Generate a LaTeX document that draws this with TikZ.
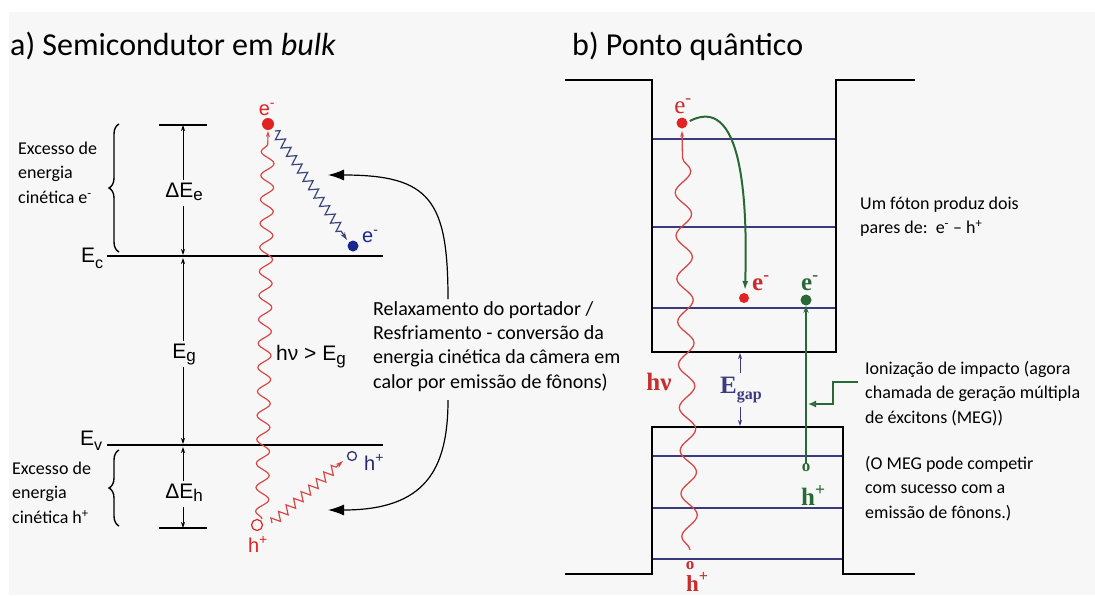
\documentclass[tikz,border=0pt]{standalone}
\usepackage{fontspec}
\setmainfont{Carlito}
\newfontfamily\arialf{Liberation Sans}
\newfontfamily\timesf{Liberation Serif}
\usetikzlibrary{arrows.meta,decorations.pathmorphing,decorations.pathreplacing}
\definecolor{bgg}{HTML}{F7F7F7}
\definecolor{redD}{RGB}{225,35,35}
\definecolor{redW}{RGB}{214,72,72}
\definecolor{redT}{RGB}{200,45,45}
\definecolor{blueD}{RGB}{25,40,140}
\definecolor{blueW}{RGB}{60,70,125}
\definecolor{blueT}{RGB}{40,40,110}
\definecolor{navy}{RGB}{58,58,125}
\definecolor{greenD}{RGB}{40,105,55}
\begin{document}
\begin{tikzpicture}[x=1pt,y=-1pt,
  txt/.style={anchor=north west,inner sep=0pt,align=left,font=\fontsize{18}{24.5}\selectfont},
  ttl/.style={anchor=base west,inner sep=0pt,font=\fontsize{32}{38}\selectfont},
  lvl/.style={line width=2.4pt,black},
  qlvl/.style={line width=2pt,navy},
  ar/.style={anchor=base,inner sep=0pt,font=\arialf\fontsize{21}{24}\selectfont},
  tm/.style={anchor=base west,inner sep=0pt,font=\timesf\bfseries\fontsize{25}{28}\selectfont},
  dim/.style={line width=0.9pt,{Stealth[length=6pt,width=4pt]}-{Stealth[length=6pt,width=4pt]}},
  bigarr/.style={line width=1.2pt,-{Latex[length=16pt,width=11pt]}},
  lab/.style={fill=bgg,inner sep=1pt}
]
\clip (0,0) rectangle (1095,595);
\fill[white] (0,0) rectangle (1095,595);
\fill[bgg] (9,12) rectangle (1095,595);

% ---------- titles
\node[ttl] (ta) at (10,55) {a) Semicondutor em \textit{bulk}};
\node[ttl] (tb) at (572,55) {b) Ponto quântico};

% ---------- left panel levels
\coordinate (ecL) at (107,256); \coordinate (ecR) at (383,256);
\coordinate (evL) at (107,445); \coordinate (evR) at (383,445);
\coordinate (tL) at (159,125);  \coordinate (tR) at (207,125);
\coordinate (bL) at (159,528);  \coordinate (bR) at (207,528);
\draw[lvl] (ecL) -- (ecR);
\draw[lvl] (evL) -- (evR);
\draw[line width=2pt] (tL) -- (tR);
\draw[line width=2pt] (bL) -- (bR);

\node[ar,anchor=base west] (Ec) at (81,262) {E\raisebox{-6pt}{\fontsize{16}{16}\selectfont c}};
\node[ar,anchor=base west] (Ev) at (80,445) {E\raisebox{-5pt}{\fontsize{16}{16}\selectfont v}};

% dimension arrows
\coordinate (d1) at (183,125); \coordinate (d2) at (183,255);
\coordinate (d3) at (183,258); \coordinate (d4) at (183,444);
\coordinate (d5) at (183,447); \coordinate (d6) at (183,528);
\draw[dim] (d1) -- (d2);
\draw[dim] (d3) -- (d4);
\draw[dim] (d5) -- (d6);
\node[ar,lab,anchor=center] (dEe) at (184,193) {\strut ΔE\raisebox{-3pt}{\fontsize{17}{17}\selectfont e}};
\node[ar,lab,anchor=center] (Eg) at (184,354) {\strut E\raisebox{-3pt}{\fontsize{17}{17}\selectfont g}};
\node[ar,lab,anchor=center] (dEh) at (184,494) {\strut ΔE\raisebox{-3pt}{\fontsize{17}{17}\selectfont h}};

% braces
\coordinate (br1a) at (119,252); \coordinate (br1b) at (119,124);
\coordinate (br2a) at (119,526); \coordinate (br2b) at (119,450);
\draw[line width=1.4pt,decorate,decoration={brace,amplitude=10pt}] (br1a) -- (br1b);
\draw[line width=1.4pt,decorate,decoration={brace,amplitude=10pt}] (br2a) -- (br2b);

\node[txt] (exe) at (18,137) {\strut Excesso de\\energia\\cinética e\textsuperscript{-}};
\node[txt] (exh) at (12,457) {\strut Excesso de\\energia\\cinética h\textsuperscript{+}};

% electron / hole
\node[circle,fill=redD,inner sep=0pt,minimum size=12pt] (eTop) at (268,124) {};
\node[ar,text=redD,font=\arialf\fontsize{20}{22}\selectfont] (eTopL) at (267,115) {e\textsuperscript{-}};
\node[circle,fill=blueD,inner sep=0pt,minimum size=11pt] (eBot) at (353,246) {};
\node[ar,anchor=base west,text=blueD,font=\arialf\fontsize{20}{22}\selectfont] (eBotL) at (362,242) {e\textsuperscript{-}};
\node[circle,draw=redD,line width=1.2pt,inner sep=0pt,minimum size=11pt] (hBot) at (257,525) {};
\node[ar,text=redD,font=\arialf\fontsize{20}{22}\selectfont] (hBotL) at (258,552) {h\textsuperscript{+}};
\node[circle,draw=blueT,line width=1.2pt,inner sep=0pt,minimum size=9pt] (hTop) at (352,456) {};
\node[ar,anchor=base west,text=blueT,font=\arialf\fontsize{20}{22}\selectfont] (hTopL) at (364,470) {h\textsuperscript{+}};

% photon left
\coordinate (ph1) at (262,519);
\coordinate (ph2) at (268,131);
\draw[redW,line width=1.2pt,-{Stealth[length=6pt,width=4pt]},decorate,
  decoration={snake,segment length=24pt,amplitude=6.5pt,pre length=0pt,post length=6pt}] (ph1) -- (ph2);
\node[ar,anchor=base west] (hnu) at (276,360) {hν > E\raisebox{-4pt}{\fontsize{17}{17}\selectfont g}};

% relaxation zigzags
\coordinate (zb1) at (275,131);
\coordinate (zb2) at (347,240);
\draw[blueW,line width=1.2pt,-{Stealth[length=8pt,width=5pt]},decorate,
  decoration={zigzag,segment length=10pt,amplitude=4.5pt,post length=9pt}] (zb1) -- (zb2);
\coordinate (zr1) at (272,523);
\coordinate (zr2) at (343,461);
\draw[redW,line width=1.2pt,-{Stealth[length=8pt,width=5pt]},decorate,
  decoration={zigzag,segment length=10pt,amplitude=4.5pt,post length=9pt}] (zr1) -- (zr2);

% relaxation text + curved arrows
\node[txt,font=\fontsize{20}{24.3}\selectfont] (relax) at (373,298) {\strut Relaxamento do portador /\\Resfriamento - conversão da\\energia cinética da câmera em\\calor por emissão de fônons)};
\coordinate (cu1) at (448,299);
\coordinate (cu2) at (328,175);
\coordinate (cl1) at (448,400);
\coordinate (cl2) at (328,510);
\draw[bigarr] (cu1) .. controls (448,200) and (430,175) .. (cu2);
\draw[bigarr] (cl1) .. controls (448,470) and (425,510) .. (cl2);

% ---------- right panel: quantum well
\coordinate (q1) at (565,80);  \coordinate (q2) at (652,80);
\coordinate (q3) at (652,352); \coordinate (q4) at (836,352);
\coordinate (q5) at (836,80);  \coordinate (q6) at (915,80);
\draw[lvl,line join=miter] (q1) -- (q2) -- (q3) -- (q4) -- (q5) -- (q6);
\coordinate (v1) at (565,574); \coordinate (v2) at (652,574);
\coordinate (v3) at (652,427); \coordinate (v4) at (843,427);
\coordinate (v5) at (843,574); \coordinate (v6) at (915,574);
\draw[lvl,line join=miter] (v1) -- (v2) -- (v3) -- (v4) -- (v5) -- (v6);

\foreach \yy/\nm in {139/c1,227/c2,308/c3}{
  \coordinate (\nm L) at (653,\yy); \coordinate (\nm R) at (835,\yy);
  \draw[qlvl] (\nm L) -- (\nm R);}
\foreach \yy/\nm in {456/w1,508/w2,559/w3}{
  \coordinate (\nm L) at (653,\yy); \coordinate (\nm R) at (842,\yy);
  \draw[qlvl] (\nm L) -- (\nm R);}

% Egap
\node[tm,anchor=center,text=navy] (Egap) at (741,390) {E\raisebox{-6pt}{\fontsize{16}{16}\selectfont gap}};
\coordinate (eg1) at (740,373); \coordinate (eg2) at (740,353);
\coordinate (eg3) at (740,407); \coordinate (eg4) at (740,426);
\draw[navy,line width=1pt,-{Stealth[length=6pt,width=4pt]}] (eg1) -- (eg2);
\draw[navy,line width=1pt,-{Stealth[length=6pt,width=4pt]}] (eg3) -- (eg4);

% carriers right
\node[circle,fill=redD,inner sep=0pt,minimum size=11pt] (qe1) at (682,123) {};
\node[anchor=base,inner sep=0pt,text=redT,font=\timesf\fontsize{25}{28}\selectfont] (qe1L) at (683,113) {e\textsuperscript{-}};
\node[circle,fill=redD,inner sep=0pt,minimum size=10pt] (qe2) at (744,298) {};
\node[tm,text=redT] (qe2L) at (752,290) {e\textsuperscript{-}};
\node[circle,fill=greenD,inner sep=0pt,minimum size=11pt] (qe3) at (806,300) {};
\node[tm,text=greenD] (qe3L) at (801,290) {e\textsuperscript{-}};
\node[anchor=center,inner sep=0pt,text=greenD,font=\timesf\bfseries\fontsize{17}{17}\selectfont] (qh1) at (806,468) {o};
\node[tm,text=greenD] (qh1L) at (801,505) {h\textsuperscript{+}};
\node[anchor=center,inner sep=0pt,text=redT,font=\timesf\bfseries\fontsize{17}{17}\selectfont] (qh2) at (690,566) {o};
\node[tm,text=redT,font=\timesf\bfseries\fontsize{23}{25}\selectfont] (qh2L) at (686,591) {h\textsuperscript{+}};

% photon right
\coordinate (rp1) at (690,550);
\coordinate (rp2) at (682,131);
\draw[redW,line width=1.3pt,-{Stealth[length=6pt,width=4pt]},decorate,
  decoration={snake,segment length=43pt,amplitude=8pt,post length=8pt}] (rp1) -- (rp2);
\node[tm,anchor=center,text=redT] (qhnu) at (659,382) {hν};

% green arrows
\draw[greenD,line width=2pt,-{Latex[length=9pt,width=6pt]}] (qe1.east) ++(2,-2) coordinate (gc1) .. controls (740,95) and (748,190) .. (745,290);
\draw[greenD,line width=2.2pt,-{Stealth[length=7pt,width=5pt]}] (qh1.north) -- (qe3.south);
\coordinate (gb1) at (858,382); \coordinate (gb2) at (833,382);
\coordinate (gb3) at (833,404); \coordinate (gb4) at (808,404);
\draw[greenD,line width=2pt,-{Latex[open,length=8pt,width=7pt]}] (gb1) -- (gb2) -- (gb3) -- (gb4);

% right texts
\node[txt] (foton) at (860,192) {\strut Um fóton produz dois\\pares de:\ \ e\textsuperscript{-} -- h\textsuperscript{+}};
\node[txt] (ioniz) at (865,357) {\strut Ionização de impacto (agora\\chamada de geração múltipla\\de éxcitons (MEG))};
\node[txt] (meg) at (865,452) {\strut (O MEG pode competir\\com sucesso com a\\emissão de fônons.)};
\end{tikzpicture}
\end{document}
